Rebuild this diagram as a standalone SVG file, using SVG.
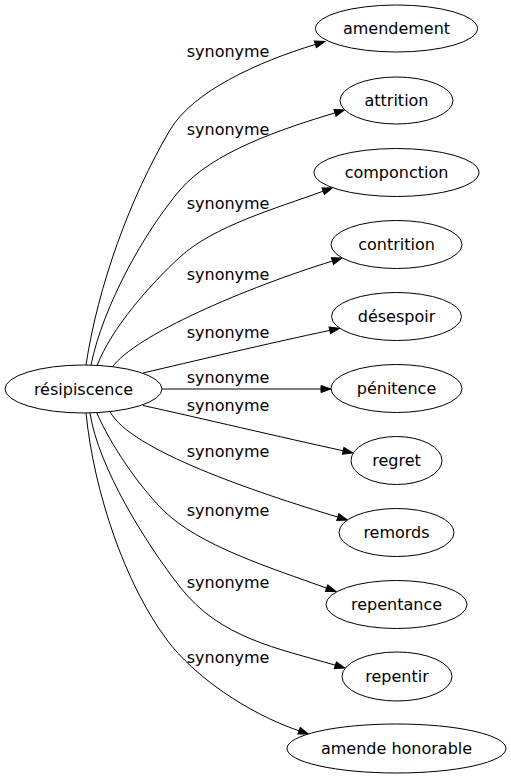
<svg xmlns="http://www.w3.org/2000/svg" width="511" height="779" viewBox="0 0 511 779">
<style>
.n ellipse{fill:#fff;stroke:#000;stroke-width:1}
.n text{font-family:"DejaVu Sans",sans-serif;font-size:16px;fill:#000;text-anchor:middle}
.e path{fill:none;stroke:#000;stroke-width:1;marker-end:url(#arr)}
.e text{font-family:"DejaVu Sans",sans-serif;font-size:16px;fill:#000}
</style>
<defs>
<marker id="arr" markerUnits="userSpaceOnUse" markerWidth="12" markerHeight="9" refX="0" refY="4.5" orient="auto" overflow="visible">
<path d="M0,1 L10,4.5 L0,8 Z" fill="#000" stroke="#000" stroke-width="1"/>
</marker>
</defs>
<rect width="511" height="779" fill="#fff"/>
<g id="edges" class="e">
<path d="M86,365 C98,286 129.4,198.9 170,130 C192.9,91.3 258,61.8 315.4,44.4"/>
<path d="M91,365 C103,306 144.4,231.9 180,190 C212.4,151.9 282.3,128.7 335,112.9"/>
<path d="M97,366 C111,328.4 150.6,284.1 180,257 C213.1,226.5 276.2,208.2 323.2,191.2"/>
<path d="M112,367.5 C135,335 246.5,287.6 332.5,261"/>
<path d="M143,373 C190,362 270,343 329.8,330.4"/>
<path d="M162,389 L321,389"/>
<path d="M143,405.5 C200,418 280,437 343.2,450.8"/>
<path d="M110,411.6 C130,450 255,492 337.8,517.1"/>
<path d="M96.7,412.7 C110.7,444.9 138.3,485.3 163,510 C198.4,545.4 270.2,567.7 326.6,588.1"/>
<path d="M90,413 C98.3,467.5 146.1,543.7 180,587 C220,638.2 277.8,648.4 335.4,665.2"/>
<path d="M86,413 C94,492.6 125.1,583.9 167,640 C193.9,676 247,713 299,730.8"/>
<text x="186.7" y="56.7">synonyme</text>
<text x="186.7" y="135">synonyme</text>
<text x="186.7" y="209.3">synonyme</text>
<text x="186.7" y="280">synonyme</text>
<text x="186.7" y="338.3">synonyme</text>
<text x="186.7" y="383.3">synonyme</text>
<text x="186.7" y="411">synonyme</text>
<text x="186.7" y="456.7">synonyme</text>
<text x="186.7" y="516">synonyme</text>
<text x="186.7" y="588.3">synonyme</text>
<text x="186.7" y="663.3">synonyme</text>
</g>
<g id="n-resipiscence" class="n"><ellipse cx="83.5" cy="389" rx="78.5" ry="24"/><text x="83.5" y="394.8">résipiscence</text></g>
<g id="n-amendement" class="n"><ellipse cx="396.5" cy="28.5" rx="81" ry="23.5"/><text x="396.5" y="34.3">amendement</text></g>
<g id="n-attrition" class="n"><ellipse cx="396.5" cy="100.5" rx="56.5" ry="23.5"/><text x="396.5" y="106.3">attrition</text></g>
<g id="n-componction" class="n"><ellipse cx="396.5" cy="172.5" rx="82.5" ry="24"/><text x="396.5" y="178.3">componction</text></g>
<g id="n-contrition" class="n"><ellipse cx="396.5" cy="244.5" rx="65.5" ry="24"/><text x="396.5" y="250.3">contrition</text></g>
<g id="n-desespoir" class="n"><ellipse cx="396.5" cy="316.5" rx="65" ry="24"/><text x="396.5" y="322.3">désespoir</text></g>
<g id="n-penitence" class="n"><ellipse cx="396.5" cy="388.5" rx="65.5" ry="24"/><text x="396.5" y="394.3">pénitence</text></g>
<g id="n-regret" class="n"><ellipse cx="396.5" cy="460.5" rx="45.5" ry="24"/><text x="396.5" y="466.3">regret</text></g>
<g id="n-remords" class="n"><ellipse cx="396.5" cy="532.5" rx="57.5" ry="24"/><text x="396.5" y="538.3">remords</text></g>
<g id="n-repentance" class="n"><ellipse cx="396.5" cy="604.5" rx="70.5" ry="24"/><text x="396.5" y="610.3">repentance</text></g>
<g id="n-repentir" class="n"><ellipse cx="397" cy="676.5" rx="55" ry="24.5"/><text x="397" y="682.3">repentir</text></g>
<g id="n-amende-honorable" class="n"><ellipse cx="396.5" cy="748.5" rx="109.5" ry="24.5"/><text x="396.5" y="754.3">amende honorable</text></g>
</svg>
